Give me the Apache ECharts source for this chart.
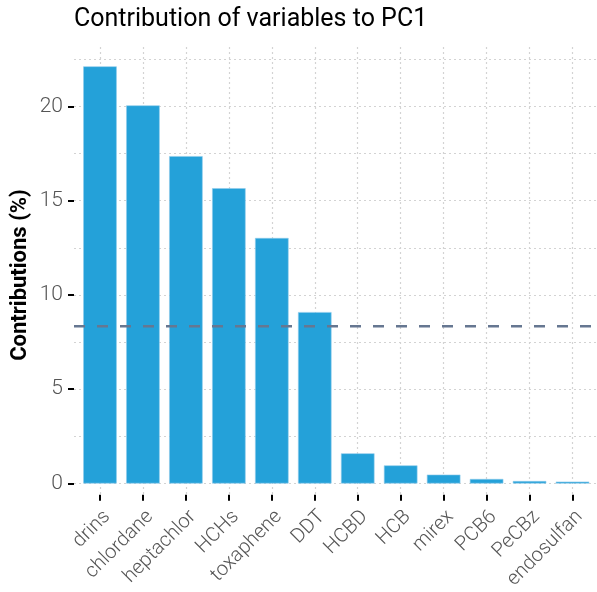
<!DOCTYPE html>
<html><head><meta charset="utf-8">
<script src="https://cdn.jsdelivr.net/npm/echarts@6/dist/echarts.min.js"></script>
<style>html,body{margin:0;padding:0;background:#fff}#c{width:597px;height:592px}</style>
</head><body><div id="c"></div>
<script>
const categories = ['drins','chlordane','heptachlor','HCHs','toxaphene','DDT','HCBD','HCB','mirex','PCB6','PeCBz','endosulfan'];
const contributions = [22.12, 20.05, 17.36, 15.66, 13.02, 9.09, 1.60, 0.96, 0.47, 0.24, 0.13, 0.10];
const expectedAverage = 100 / 12;
const yTicks = [0, 5, 10, 15, 20];

const FONT = 'Roboto, "Noto Sans", sans-serif';
const dotted = {type:[2,3], color:'#d3d3d3', width:1.2};
const chart = echarts.init(document.getElementById('c'), null, {renderer:'canvas'});
chart.setOption({
  animation:false,
  backgroundColor:'#fff',
  title:{text:'Contribution of variables to PC1', left:74, top:7, padding:0,
    textStyle:{fontFamily:FONT, fontSize:25, fontWeight:'normal', color:'#000'}},
  grid:[
    {left:74, right:0, top:59.2, bottom:108.5},
    {left:100, right:24.5, top:47, bottom:88},
    {left:78.5, right:3, top:59.2, bottom:108.5},
    {left:74, right:0, top:106.3, bottom:108.5}
  ],
  xAxis:[
    {gridIndex:0, type:'value', show:false, min:0, max:1},
    {gridIndex:1, type:'category', data:categories, boundaryGap:false,
      axisLine:{show:false, onZero:false},
      axisTick:{show:true, length:6, lineStyle:{color:'#000', width:2}},
      axisLabel:{rotate:45, margin:12, verticalAlign:'top', fontFamily:FONT, fontSize:20, fontWeight:300, color:'#555', interval:0},
      splitLine:{show:true, lineStyle:dotted}},
    {gridIndex:2, type:'category', data:categories, boundaryGap:true, show:false},
    {gridIndex:3, type:'value', show:false, min:0, max:1}
  ],
  yAxis:[
    {gridIndex:0, type:'value', min:0, max:22.5, interval:2.5,
      axisLine:{show:false}, axisTick:{show:false}, axisLabel:{show:false},
      splitLine:{show:true, lineStyle:dotted}},
    {gridIndex:1, type:'value', show:false, min:0, max:1},
    {gridIndex:2, type:'value', min:0, max:22.5, show:false},
    {gridIndex:3, type:'value', min:yTicks[0], max:yTicks[yTicks.length-1], interval:5,
      axisLine:{show:false}, splitLine:{show:false},
      axisTick:{show:true, length:6, lineStyle:{color:'#000', width:2}},
      axisLabel:{margin:11, fontFamily:FONT, fontSize:21, fontWeight:300, color:'#555'}}
  ],
  graphic:[{type:'text', x:20, y:275, rotation:Math.PI/2,
    style:{text:'Contributions (%)', font:'bold 22px Roboto, "Noto Sans", sans-serif', fill:'#000',
      align:'center', verticalAlign:'middle'}}],
  series:[{
    type:'bar', xAxisIndex:2, yAxisIndex:2, data:contributions, barWidth:'78%', z:2,
    itemStyle:{color:'#24A1D9', borderColor:'#8fcbeb', borderWidth:0.6}
  },{
    type:'line', xAxisIndex:0, yAxisIndex:0, symbol:'none', silent:true, z:20,
    data:[[0, expectedAverage],[1, expectedAverage]],
    lineStyle:{type:[11,12], color:'#667791', width:2.5}
  }]
});
</script></body></html>
